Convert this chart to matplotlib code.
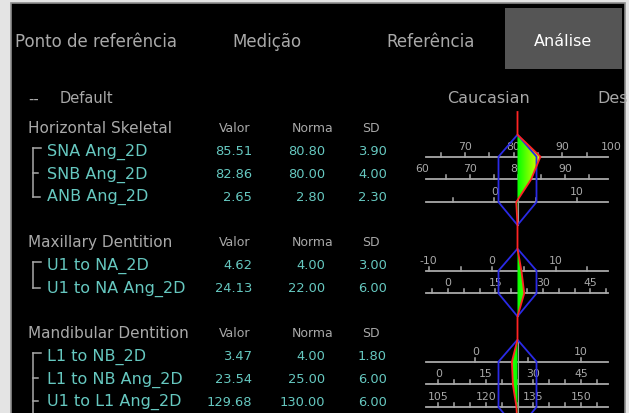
import numpy as np
import matplotlib
matplotlib.use("Agg")
import matplotlib.pyplot as plt
from matplotlib.patches import Rectangle, Polygon

# ---- data ----
tabs = ["Ponto de referência", "Medição", "Referência", "Análise"]
population_label = "Caucasian"
next_column_label = "Des"

group_titles = ["Horizontal Skeletal", "Maxillary Dentition", "Mandibular Dentition"]
measure_names = [["SNA Ang_2D", "SNB Ang_2D", "ANB Ang_2D"],
                 ["U1 to NA_2D", "U1 to NA Ang_2D"],
                 ["L1 to NB_2D", "L1 to NB Ang_2D", "U1 to L1 Ang_2D"]]
valor = [[85.51, 82.86, 2.65],
         [4.62, 24.13],
         [3.47, 23.54, 129.68]]
norma = [[80.80, 80.00, 2.80],
         [4.00, 22.00],
         [4.00, 25.00, 130.00]]
sd = [[3.90, 4.00, 2.30],
      [3.00, 6.00],
      [1.80, 6.00, 6.00]]
scale_labels = [[[70, 80, 90, 100], [60, 70, 80, 90], [0, 10]],
                [[-10, 0, 10], [0, 15, 30, 45]],
                [[0, 10], [0, 15, 30, 45], [105, 120, 135, 150]]]
minor_step = 5
more_rows_below = [False, False, True]

# ---- look ----
W, H = 629, 414
GRAY = "#a9a9a9"
TEAL = "#66c8c0"
BLUE = "#2a2ae6"
RED = "#ff2424"
FONT = "DejaVu Sans"

header_y = [129, 243, 334]
row_gap = 22.7
cx = 517.5          # norm position on every scale
px_per_sd = 19.0
line_x0, line_x1 = 426, 608

fig = plt.figure(figsize=(W / 100, H / 100), dpi=100, facecolor="#e4e4e4")
ax = fig.add_axes([0, 0, 1, 1])
ax.set_xlim(0, W)
ax.set_ylim(H, 0)
ax.axis("off")

panel = Rectangle((11, 4), 614, 420, facecolor="black", edgecolor="#8c8c8c", lw=1.2, zorder=0)
ax.add_patch(panel)

# tab bar
tab_x = [15, 232, 386, 563]
for i, t in enumerate(tabs):
    if i == len(tabs) - 1:
        ax.add_patch(Rectangle((505, 9), 117, 61, facecolor="#555555", edgecolor="none", zorder=1))
        ax.text(tab_x[i], 42, t, color="white", fontsize=11.5, family=FONT,
                ha="center", va="center", zorder=2)
    else:
        ax.text(tab_x[i], 42, t, color=GRAY, fontsize=12, family=FONT, ha="left", va="center")

ax.text(28, 99, "--", color=GRAY, fontsize=10.5, family=FONT, va="center")
ax.text(60, 99, "Default", color=GRAY, fontsize=10.5, family=FONT, va="center")
ax.text(488, 99, population_label, color=GRAY, fontsize=11.5, family=FONT, ha="center", va="center")
ax.text(597, 99, next_column_label, color=GRAY, fontsize=11.5, family=FONT, va="center")

# gradient image used for the value fills
gx = np.linspace(0, W, 630)
dist = np.clip(np.abs(gx - cx) / 24.0, 0, 1)
grad = np.zeros((2, gx.size, 3))
grad[:, :, 0] = dist * 0.95
grad[:, :, 1] = 1.0

red_x, red_y = [cx], [113]

for g, title in enumerate(group_titles):
    hy = header_y[g]
    ax.text(28, hy, title, color=GRAY, fontsize=11, family=FONT, va="center")
    ax.text(235, hy, "Valor", color=GRAY, fontsize=9, family=FONT, ha="center", va="center")
    ax.text(313, hy, "Norma", color=GRAY, fontsize=9, family=FONT, ha="center", va="center")
    ax.text(371, hy, "SD", color=GRAY, fontsize=9, family=FONT, ha="center", va="center")

    rows_y = [hy + row_gap * (i + 1) for i in range(len(measure_names[g]))]
    line_y = [y + 6 for y in rows_y]

    for i, name in enumerate(measure_names[g]):
        y = rows_y[i]
        ax.text(47, y, name, color=TEAL, fontsize=11.5, family=FONT, va="center")
        ax.text(252, y, f"{valor[g][i]:.2f}", color=TEAL, fontsize=9.4, family=FONT, ha="right", va="center")
        ax.text(325, y, f"{norma[g][i]:.2f}", color=TEAL, fontsize=9.4, family=FONT, ha="right", va="center")
        ax.text(387, y, f"{sd[g][i]:.2f}", color=TEAL, fontsize=9.4, family=FONT, ha="right", va="center")

    # bracket
    top = rows_y[0] - 3
    bot = rows_y[-1] + 1
    vbot = H + 10 if more_rows_below[g] else bot
    ax.plot([33, 33], [top, vbot], color=GRAY, lw=1.1)
    ax.plot([33, 41], [top, top], color=GRAY, lw=1.1)
    for y in rows_y[1:-1]:
        ax.plot([33, 38], [y, y], color=GRAY, lw=1.1)
    if more_rows_below[g]:
        ax.plot([33, 38], [rows_y[-1], rows_y[-1]], color=GRAY, lw=1.1)
    else:
        ax.plot([33, 40], [bot, bot], color=GRAY, lw=1.1)

    # scales
    pts = []
    for i in range(len(line_y)):
        k = px_per_sd / sd[g][i]
        ly = line_y[i]
        ax.plot([line_x0, line_x1], [ly, ly], color=GRAY, lw=1.3, zorder=2)
        v0 = norma[g][i] - (cx - line_x0) / k
        v1 = norma[g][i] + (line_x1 - cx) / k
        for v in np.arange(np.ceil(v0 / minor_step) * minor_step, v1 + 1e-9, minor_step):
            tx = cx + (v - norma[g][i]) * k
            ax.plot([tx, tx], [ly, ly - 4], color=GRAY, lw=1.1, zorder=2)
        for v in scale_labels[g][i]:
            tx = cx + (v - norma[g][i]) * k
            ax.text(tx, ly - 11, str(v), color=GRAY, fontsize=7.8, family=FONT,
                    ha="center", va="center", zorder=2)
        pts.append((cx + (valor[g][i] - norma[g][i]) * k, ly))

    apex_top = line_y[0] - 22
    apex_bot = line_y[-1] + 23

    # norm hexagon (+-1 SD)
    hexagon = [(cx, apex_top), (cx - px_per_sd, line_y[0]), (cx - px_per_sd, line_y[-1]),
               (cx, apex_bot), (cx + px_per_sd, line_y[-1]), (cx + px_per_sd, line_y[0])]
    ax.add_patch(Polygon(hexagon, closed=True, fill=False, edgecolor=BLUE, lw=1.3, zorder=4))
    ax.plot([cx, cx], [apex_top, apex_bot], color="#9a9a9a", lw=0.8, zorder=2.5)

    # value fill
    poly = [(cx, apex_top)] + pts + [(cx, apex_bot)]
    fill = Polygon(poly, closed=True, facecolor="none", edgecolor="none")
    ax.add_patch(fill)
    im = ax.imshow(grad, extent=(0, W, H, 0), aspect="auto", zorder=3, interpolation="bilinear")
    im.set_clip_path(fill)

    red_x += [cx] + [p[0] for p in pts] + [cx]
    red_y += [apex_top] + [p[1] for p in pts] + [apex_bot]

ax.plot(red_x, red_y, color=RED, lw=1.3, zorder=5)

ax.set_xlim(0, W)
ax.set_ylim(H, 0)
fig.savefig("out.png", dpi=100, facecolor=fig.get_facecolor())
